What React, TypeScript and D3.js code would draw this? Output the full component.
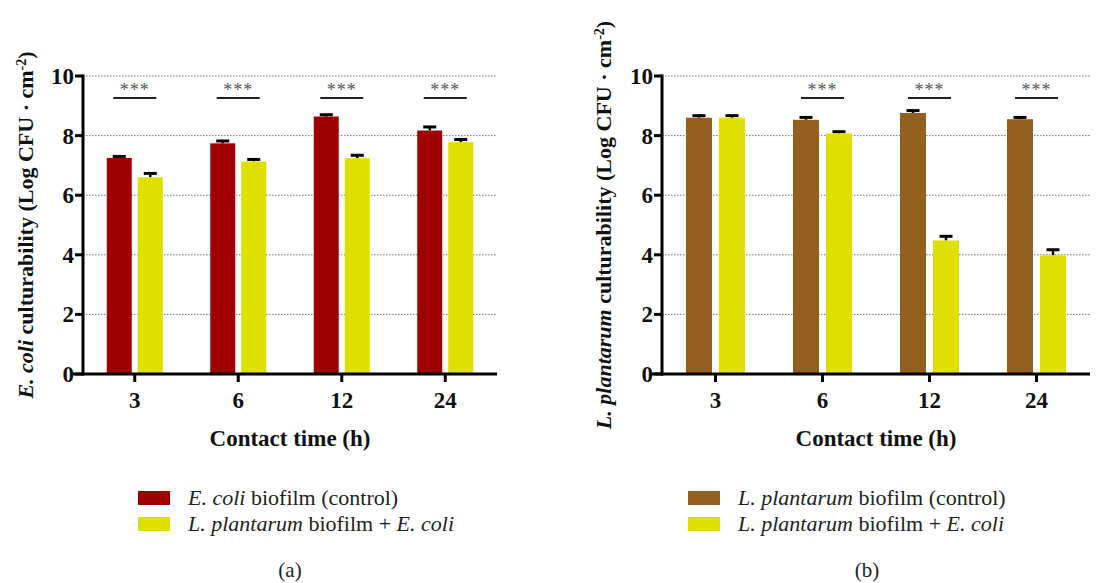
import React from "react";
import * as d3 from "d3";

const categories = ["3", "6", "12", "24"];
const yTicks = [0, 2, 4, 6, 8, 10];

const ecoliControl = [7.25, 7.74, 8.64, 8.17];
const ecoliControlErr = [0.05, 0.08, 0.06, 0.12];
const ecoliTreated = [6.6, 7.13, 7.24, 7.78];
const ecoliTreatedErr = [0.13, 0.07, 0.1, 0.09];
const ecoliSig = ["3", "6", "12", "24"];

const lpControl = [8.6, 8.53, 8.76, 8.55];
const lpControlErr = [0.07, 0.08, 0.08, 0.06];
const lpTreated = [8.6, 8.07, 4.48, 3.98];
const lpTreatedErr = [0.07, 0.06, 0.14, 0.19];
const lpSig = ["6", "12", "24"];

const SIG_LEVEL = 9.26;

const RED = "#9f0000";
const YELLOW = "#dee000";
const BROWN = "#936020";

const FONT = "'Liberation Serif', 'DejaVu Serif', serif";

type PanelProps = {
  x0: number;
  x1: number;
  half: number;
  pad: number;
  control: number[];
  controlErr: number[];
  treated: number[];
  treatedErr: number[];
  sig: string[];
  controlColor: string;
  labelX: number;
  yLabel: React.ReactNode;
  legend1: React.ReactNode;
  legend2: React.ReactNode;
  legendX: number;
  panelTag: string;
  tagX: number;
};

function Panel(p: PanelProps) {
  const y = d3.scaleLinear().domain([0, 10]).range([374, 76]);
  const x = d3.scaleBand<string>().domain(categories).range([p.x0, p.x1]).paddingInner(0).paddingOuter(0);
  const inner = d3.scaleBand<string>().domain(["c", "t"]).range([-p.half, p.half]).paddingInner(p.pad);
  const cx = (c: string) => (x(c) as number) + x.bandwidth() / 2;
  const bw = inner.bandwidth();
  const series = [
    { key: "c", vals: p.control, errs: p.controlErr, color: p.controlColor },
    { key: "t", vals: p.treated, errs: p.treatedErr, color: YELLOW },
  ];
  return (
    <g>
      {yTicks.filter((t) => t > 0).map((t) => (
        <line key={"g" + t} x1={p.x0} x2={p.x1} y1={y(t)} y2={y(t)} stroke="#777" strokeWidth={1} strokeDasharray="1.5,1.5" />
      ))}
      {series.map((s) =>
        categories.map((c, i) => {
          const bx = cx(c) + (inner(s.key) as number);
          return (
            <g key={s.key + c}>
              <line x1={bx + bw / 2} x2={bx + bw / 2} y1={y(s.vals[i] + s.errs[i])} y2={y(s.vals[i])} stroke="#000" strokeWidth={2.5} />
              <line x1={bx + bw / 2 - 6.5} x2={bx + bw / 2 + 6.5} y1={y(s.vals[i] + s.errs[i])} y2={y(s.vals[i] + s.errs[i])} stroke="#000" strokeWidth={3} />
              <rect x={bx} y={y(s.vals[i])} width={bw} height={y(0) - y(s.vals[i])} fill={s.color} />
            </g>
          );
        })
      )}
      {p.sig.map((c) => (
        <g key={"s" + c}>
          <line x1={cx(c) - 21.5} x2={cx(c) + 21.5} y1={y(SIG_LEVEL)} y2={y(SIG_LEVEL)} stroke="#222" strokeWidth={2} />
          <text x={cx(c)} y={y(SIG_LEVEL) - 2} textAnchor="middle" fontFamily={FONT} fontSize={18} fill="#555" letterSpacing={1}>***</text>
        </g>
      ))}
      {/* y axis */}
      <line x1={p.x0} x2={p.x0} y1={y(10) - 1.5} y2={y(0) + 1.5} stroke="#000" strokeWidth={3} />
      {yTicks.map((t) => (
        <g key={"yt" + t}>
          <line x1={p.x0 - 8} x2={p.x0} y1={y(t)} y2={y(t)} stroke="#000" strokeWidth={3} />
          <text x={p.x0 - 9} y={y(t) + 8} textAnchor="end" fontFamily={FONT} fontWeight="bold" fontSize={23} fill="#111">{t}</text>
        </g>
      ))}
      {/* x axis */}
      <line x1={p.x0 - 10} x2={p.x1} y1={y(0)} y2={y(0)} stroke="#000" strokeWidth={3} />
      {categories.map((c) => (
        <g key={"xt" + c}>
          <line x1={cx(c)} x2={cx(c)} y1={y(0)} y2={y(0) + 8} stroke="#000" strokeWidth={3} />
          <text x={cx(c)} y={408} textAnchor="middle" fontFamily={FONT} fontWeight="bold" fontSize={23} fill="#111">{c}</text>
        </g>
      ))}
      <text x={(p.x0 + p.x1) / 2} y={446} textAnchor="middle" fontFamily={FONT} fontWeight="bold" fontSize={23} fill="#111">Contact time (h)</text>
      <text transform={`translate(${p.labelX},${(y(0) + y(10)) / 2}) rotate(-90)`} textAnchor="middle" fontFamily={FONT} fontWeight="bold" fontSize={22} fill="#111">{p.yLabel}</text>
      {/* legend */}
      <rect x={p.legendX} y={491} width={32} height={14} fill={p.controlColor} />
      <rect x={p.legendX} y={517} width={32} height={14} fill={YELLOW} />
      <text x={p.legendX + 50} y={505} fontFamily={FONT} fontSize={22} fill="#222">{p.legend1}</text>
      <text x={p.legendX + 50} y={531} fontFamily={FONT} fontSize={22} fill="#222">{p.legend2}</text>
      <text x={p.tagX} y={577} textAnchor="middle" fontFamily={FONT} fontSize={21} fill="#222">{p.panelTag}</text>
    </g>
  );
}

export default function App() {
  return (
    <svg width={1104} height={583} style={{ position: "absolute", left: 0, top: 0, background: "#fff" }}>
      <rect width={1104} height={583} fill="#fff" />
      <Panel
        x0={83}
        x1={497}
        half={28}
        pad={0.194}
        control={ecoliControl}
        controlErr={ecoliControlErr}
        treated={ecoliTreated}
        treatedErr={ecoliTreatedErr}
        sig={ecoliSig}
        controlColor={RED}
        labelX={33}
        yLabel={<><tspan fontStyle="italic">E. coli</tspan> culturability (Log CFU · cm<tspan baselineShift="super" fontSize={14}>-2</tspan>)</>}
        legend1={<><tspan fontStyle="italic">E. coli</tspan> biofilm (control)</>}
        legend2={<><tspan fontStyle="italic">L. plantarum</tspan> biofilm + <tspan fontStyle="italic">E. coli</tspan></>}
        legendX={138}
        panelTag="(a)"
        tagX={290}
      />
      <Panel
        x0={662}
        x1={1090}
        half={29.5}
        pad={0.212}
        control={lpControl}
        controlErr={lpControlErr}
        treated={lpTreated}
        treatedErr={lpTreatedErr}
        sig={lpSig}
        controlColor={BROWN}
        labelX={611}
        yLabel={<><tspan fontStyle="italic">L. plantarum</tspan> culturability (Log CFU · cm<tspan baselineShift="super" fontSize={14}>-2</tspan>)</>}
        legend1={<><tspan fontStyle="italic">L. plantarum</tspan> biofilm (control)</>}
        legend2={<><tspan fontStyle="italic">L. plantarum</tspan> biofilm + <tspan fontStyle="italic">E. coli</tspan></>}
        legendX={688}
        panelTag="(b)"
        tagX={867}
      />
    </svg>
  );
}
